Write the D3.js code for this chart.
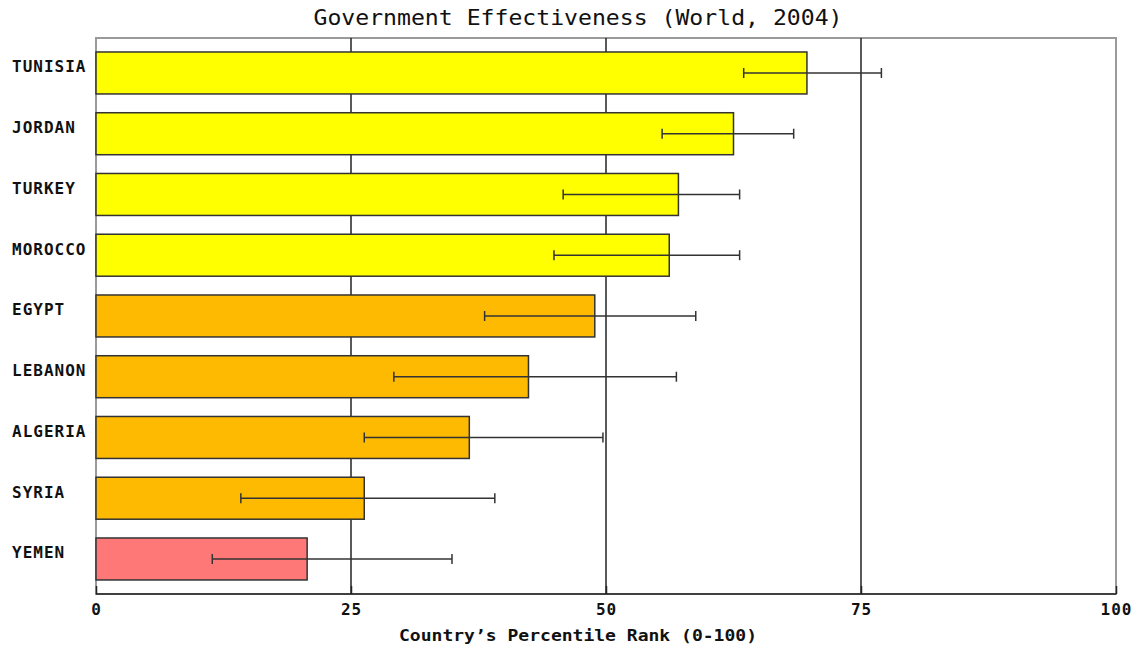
<!DOCTYPE html>
<html>
<head>
<meta charset="utf-8">
<script src="https://cdn.jsdelivr.net/npm/d3@7"></script>
<style>
  html, body { margin: 0; padding: 0; background: #fff; }
  svg { display: block; }
</style>
</head>
<body>
<div id="chart"></div>
<script>
// Government effectiveness percentile ranks with confidence margins
const countries = ["TUNISIA", "JORDAN", "TURKEY", "MOROCCO", "EGYPT", "LEBANON", "ALGERIA", "SYRIA", "YEMEN"];
const ranks     = [69.7, 62.5, 57.1, 56.2, 48.9, 42.4, 36.6, 26.3, 20.7];
const lowerCI   = [63.5, 55.5, 45.8, 44.9, 38.1, 29.2, 26.3, 14.2, 11.4];
const upperCI   = [77.0, 68.4, 63.1, 63.1, 58.8, 56.9, 49.7, 39.1, 34.9];
const xTicks    = [0, 25, 50, 75, 100];
const titleText = "Government Effectiveness (World, 2004)";
const xTitle    = "Country\u2019s Percentile Rank (0-100)";

const W = 1142, H = 648;
const plotL = 96, plotR = 1116, plotT = 38, plotB = 594;

const svg = d3.select("#chart").append("svg")
  .attr("width", W).attr("height", H);

const x = d3.scaleLinear().domain([0, 100]).range([plotL, plotR]);
const y = d3.scaleBand().domain(countries)
  .range([42.6, 42.6 + 9 * 60.75])
  .paddingInner(0.309).paddingOuter(0.1545);

// colour bands by percentile range
const color = d3.scaleThreshold()
  .domain([25, 50, 75])
  .range(["#ff7878", "#fdba00", "#ffff00", "#00cc00"]);

const mono = "'DejaVu Sans Mono', 'Liberation Mono', monospace";

// plot frame
svg.append("rect")
  .attr("x", plotL).attr("y", plotT)
  .attr("width", plotR - plotL).attr("height", plotB - plotT)
  .attr("fill", "#fff").attr("stroke", "#9a9a9a").attr("stroke-width", 2);

// vertical gridlines
svg.append("g").selectAll("line")
  .data(xTicks.filter(t => t > 0 && t < 100))
  .join("line")
  .attr("x1", d => x(d)).attr("x2", d => x(d))
  .attr("y1", plotT).attr("y2", plotB)
  .attr("stroke", "#222").attr("stroke-width", 1.5);

// bars
svg.append("g").selectAll("rect")
  .data(countries)
  .join("rect")
  .attr("x", x(0))
  .attr("y", d => y(d))
  .attr("width", (d, i) => x(ranks[i]) - x(0))
  .attr("height", y.bandwidth())
  .attr("fill", (d, i) => color(ranks[i]))
  .attr("stroke", "#333").attr("stroke-width", 1.5);

// error bars
const err = svg.append("g").attr("stroke", "#333").attr("stroke-width", 1.5);
countries.forEach((c, i) => {
  const cy = y(c) + y.bandwidth() / 2;
  err.append("line").attr("x1", x(lowerCI[i])).attr("x2", x(upperCI[i])).attr("y1", cy).attr("y2", cy);
  err.append("line").attr("x1", x(lowerCI[i])).attr("x2", x(lowerCI[i])).attr("y1", cy - 5).attr("y2", cy + 5);
  err.append("line").attr("x1", x(upperCI[i])).attr("x2", x(upperCI[i])).attr("y1", cy - 5).attr("y2", cy + 5);
});

// x axis
const axis = svg.append("g")
  .attr("transform", `translate(0,${plotB})`)
  .call(d3.axisBottom(x).tickValues(xTicks).tickSize(0).tickPadding(0));
axis.select(".domain").attr("stroke", "#222").attr("stroke-width", 1.5)
  .attr("d", `M${plotL},0H${plotR}`);
axis.selectAll(".tick line")
  .attr("y1", 0).attr("y2", -8)
  .attr("stroke", "#222").attr("stroke-width", 1.5);
axis.selectAll(".tick text")
  .attr("y", 10).attr("dy", "0.71em")
  .attr("font-family", mono).attr("font-weight", "bold")
  .attr("font-size", 16).attr("letter-spacing", 1)
  .attr("fill", "#111");

// category labels
svg.append("g").selectAll("text")
  .data(countries)
  .join("text")
  .attr("x", 12)
  .attr("y", d => y(d) + y.bandwidth() / 2 - 0.5)
  .attr("font-family", mono).attr("font-weight", "bold")
  .attr("font-size", 16).attr("letter-spacing", 1)
  .attr("fill", "#111")
  .text(d => d);

// title
svg.append("text")
  .attr("x", 578).attr("y", 25)
  .attr("text-anchor", "middle")
  .attr("font-family", mono).attr("font-size", 21)
  .attr("textLength", 529).attr("lengthAdjust", "spacingAndGlyphs")
  .attr("fill", "#111")
  .text(titleText);

// x axis title
svg.append("text")
  .attr("x", 578).attr("y", 641)
  .attr("text-anchor", "middle")
  .attr("font-family", mono).attr("font-weight", "bold")
  .attr("font-size", 16)
  .attr("textLength", 358).attr("lengthAdjust", "spacingAndGlyphs")
  .attr("fill", "#111")
  .text(xTitle);
</script>
</body>
</html>
